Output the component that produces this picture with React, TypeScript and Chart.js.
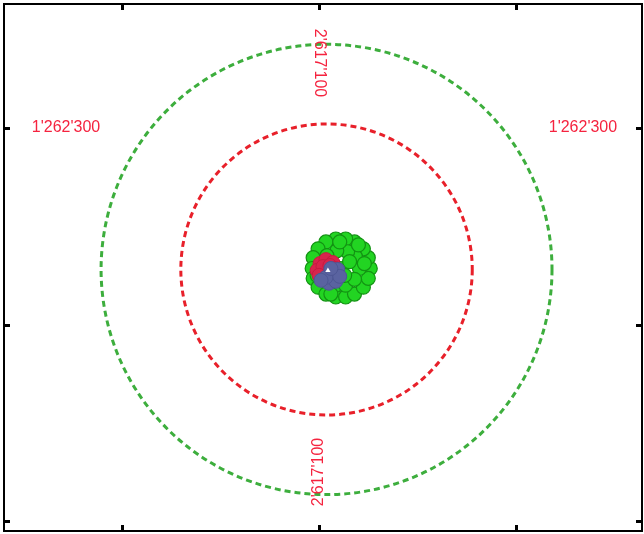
import React, { useEffect, useRef } from "react";
import { Chart, registerables } from "chart.js";

Chart.register(...registerables);

// Swiss LV95 coordinates (metres)
const xTicks = [2616900, 2617100, 2617300];
const yTicks = [1261900, 1262100, 1262300];
const xRange = [2616780, 2617428];
const yRange = [1261890, 1262426];

// Tolerance circles around the reference point
const circleCenter = { e: 2617107.6, n: 1262156 };
const outerRadius = 229;
const innerRadius = 148;

// Grid labels
const eastLabel = "2'617'100";
const northLabel = "1'262'300";
const eastLabelN = [1262366, 1261950];
const northLabelE = [2616843, 2617368];

// Measured positions
const greenE = [
  2617152, 2617150, 2617145, 2617136, 2617127, 2617117, 2617107, 2617099, 2617094,
  2617093, 2617094, 2617099, 2617107, 2617117, 2617127, 2617136, 2617145, 2617150,
  2617141, 2617137, 2617129, 2617118, 2617108, 2617104, 2617107, 2617117, 2617127,
  2617136, 2617122, 2617131, 2617126, 2617146, 2617140, 2617112, 2617098, 2617121,
];
const greenN = [
  1262157, 1262168, 1262177, 1262184, 1262187, 1262187, 1262184, 1262177, 1262168,
  1262157, 1262147, 1262138, 1262131, 1262128, 1262128, 1262131, 1262138, 1262147,
  1262157, 1262169, 1262174, 1262175, 1262170, 1262160, 1262147, 1262140, 1262140,
  1262146, 1262157, 1262164, 1262150, 1262162, 1262181, 1262131, 1262150, 1262184,
];
const redE = [2617101, 2617107, 2617114, 2617098, 2617104, 2617111, 2617100, 2617116];
const redN = [1262162, 1262166, 1262163, 1262155, 1262159, 1262160, 1262150, 1262157];
const blueE = [2617114, 2617119, 2617110, 2617117, 2617107, 2617102, 2617121, 2617112];
const blueN = [1262151, 1262156, 1262142, 1262144, 1262148, 1262145, 1262149, 1262157];
const refE = [2617109];
const refN = [1262155];

const pts = (es: number[], ns: number[]) => es.map((e, i) => ({ x: e, y: ns[i] }));

const overlayPlugin = {
  id: "overlay",
  beforeDatasetsDraw(chart: any) {
    const { ctx, scales } = chart;
    const xs = scales.x;
    const ys = scales.y;
    const cx = xs.getPixelForValue(circleCenter.e);
    const cy = ys.getPixelForValue(circleCenter.n);
    const rings = [
      { r: outerRadius, color: "#3dae3d" },
      { r: innerRadius, color: "#e8202a" },
    ];
    ctx.save();
    ctx.lineWidth = 3;
    ctx.setLineDash([6, 4]);
    for (const ring of rings) {
      const rx = xs.getPixelForValue(circleCenter.e + ring.r) - cx;
      const ry = cy - ys.getPixelForValue(circleCenter.n + ring.r);
      ctx.strokeStyle = ring.color;
      ctx.beginPath();
      ctx.ellipse(cx, cy, rx, ry, 0, 0, Math.PI * 2);
      ctx.stroke();
    }
    ctx.restore();
  },
  afterDatasetsDraw(chart: any) {
    const { ctx, scales } = chart;
    const xs = scales.x;
    const ys = scales.y;
    ctx.save();
    ctx.fillStyle = "#f5233f";
    ctx.font = "16px 'Liberation Sans', Arial, sans-serif";
    ctx.textAlign = "center";
    ctx.textBaseline = "middle";
    // northing labels (horizontal)
    const ny = ys.getPixelForValue(yTicks[2]);
    for (const e of northLabelE) {
      ctx.fillText(northLabel, xs.getPixelForValue(e), ny);
    }
    // easting labels (vertical)
    const ex = xs.getPixelForValue(xTicks[1]);
    eastLabelN.forEach((n, i) => {
      ctx.save();
      ctx.translate(ex, ys.getPixelForValue(n));
      ctx.rotate(i === 0 ? Math.PI / 2 : -Math.PI / 2);
      ctx.fillText(eastLabel, 0, 0);
      ctx.restore();
    });
    ctx.restore();
  },
  afterDraw(chart: any) {
    const { ctx, chartArea, scales } = chart;
    const { left, right, top, bottom } = chartArea;
    ctx.save();
    ctx.strokeStyle = "#000";
    ctx.lineWidth = 2;
    ctx.strokeRect(left, top, right - left, bottom - top);
    ctx.lineWidth = 3;
    const len = 6;
    for (const v of xTicks) {
      const x = Math.round(scales.x.getPixelForValue(v)) + 0.5;
      ctx.beginPath();
      ctx.moveTo(x, top);
      ctx.lineTo(x, top + len);
      ctx.moveTo(x, bottom);
      ctx.lineTo(x, bottom - len);
      ctx.stroke();
    }
    for (const v of yTicks) {
      const y = Math.round(scales.y.getPixelForValue(v)) + 0.5;
      ctx.beginPath();
      ctx.moveTo(left, y);
      ctx.lineTo(left + len, y);
      ctx.moveTo(right, y);
      ctx.lineTo(right - len, y);
      ctx.stroke();
    }
    ctx.restore();
  },
};

export default function App() {
  const ref = useRef<HTMLCanvasElement | null>(null);

  useEffect(() => {
    document.body.style.margin = "0";
    const canvas = ref.current;
    if (!canvas) return;
    const chart = new Chart(canvas, {
      type: "scatter",
      data: {
        datasets: [
          {
            label: "reference",
            data: pts(refE, refN),
            pointStyle: "triangle",
            pointRadius: 3,
            backgroundColor: "#ffffff",
            borderColor: "#ffffff",
            borderWidth: 0,
          },
          {
            label: "fix B",
            data: pts(blueE, blueN),
            pointRadius: 7,
            backgroundColor: "#5a63a0",
            borderColor: "#4e5794",
            borderWidth: 1,
          },
          {
            label: "fix A",
            data: pts(redE, redN),
            pointRadius: 7,
            backgroundColor: "#d8244c",
            borderColor: "#c41c40",
            borderWidth: 1,
          },
          {
            label: "positions",
            data: pts(greenE, greenN),
            pointRadius: 7,
            backgroundColor: "#22d422",
            borderColor: "#139313",
            borderWidth: 1.2,
          },
        ],
      },
      options: {
        responsive: false,
        animation: false,
        layout: { autoPadding: false, padding: { left: 4, right: 2, top: 4, bottom: 3 } },
        plugins: { legend: { display: false }, tooltip: { enabled: false } },
        scales: {
          x: { type: "linear", display: false, min: xRange[0], max: xRange[1] },
          y: { type: "linear", display: false, min: yRange[0], max: yRange[1] },
        },
      },
      plugins: [overlayPlugin],
    });
    return () => chart.destroy();
  }, []);

  return <canvas ref={ref} width={644} height={534} style={{ display: "block" }} />;
}
